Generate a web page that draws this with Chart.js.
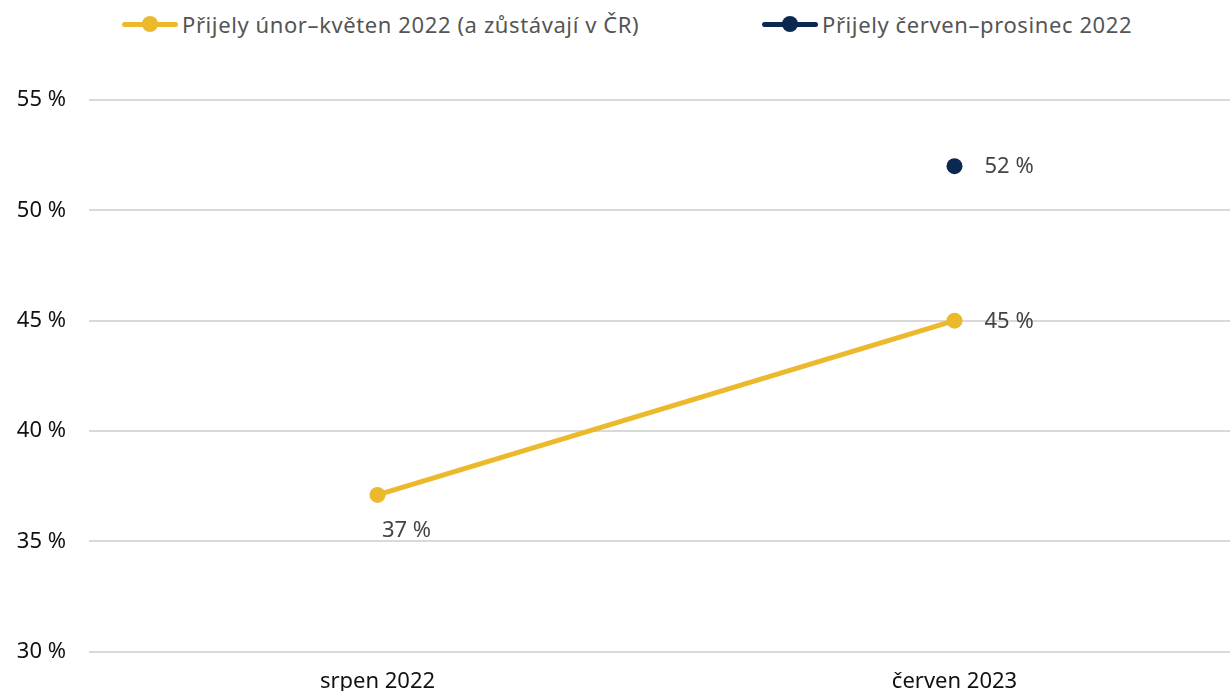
<!DOCTYPE html>
<html lang="cs">
<head>
<meta charset="utf-8">
<script src="https://cdn.jsdelivr.net/npm/chart.js@4/dist/chart.umd.min.js"></script>
<style>
  html, body { margin: 0; padding: 0; background: #fff; overflow: hidden; }
  body { width: 1230px; height: 691px; position: relative; font-family: "Noto Sans", sans-serif; }
  #legend { position: absolute; top: 0; left: 0; width: 1230px; height: 48px; }
  .item { position: absolute; top: 8px; display: flex; align-items: center; color: #555; font-size: 22px; letter-spacing: 0.6px; }
  .sw { position: relative; width: 56px; height: 32px; margin-right: 4px; }
  .sw i { position: absolute; left: 0; right: 0; top: 14px; height: 5px; border-radius: 3px; }
  .sw b { position: absolute; left: 20px; top: 8px; width: 16px; height: 16px; border-radius: 50%; }
  #chart { position: absolute; top: 48px; left: 0; }
</style>
</head>
<body>
<div id="legend"></div>
<canvas id="chart" width="1251" height="656"></canvas>
<script>
const categories = ['srpen 2022', 'červen 2023'];
const seriesNames = ['Přijely únor–květen 2022 (a zůstávají v ČR)', 'Přijely červen–prosinec 2022'];
const arrivedFebMay = [37.1, 45];
const arrivedJunDec = [null, 52];
const yTicks = [30, 35, 40, 45, 50, 55];
const colors = ['#ebb92b', '#0a2850'];

// legend: line with a dot, like the original
const legend = document.getElementById('legend');
const legendLeft = [122, 762];
seriesNames.forEach((name, i) => {
    const el = document.createElement('div');
    el.className = 'item';
    el.style.left = legendLeft[i] + 'px';
    el.innerHTML = `<span class="sw"><i style="background:${colors[i]}"></i><b style="background:${colors[i]}"></b></span><span>${name}</span>`;
    legend.appendChild(el);
});

// value labels next to the points
const valueLabels = {
    id: 'valueLabels',
    afterDatasetsDraw(chart) {
        const ctx = chart.ctx;
        ctx.save();
        ctx.font = '22px "Noto Sans", sans-serif';
        ctx.fillStyle = '#444';
        ctx.textBaseline = 'middle';
        chart.data.datasets.forEach((ds, di) => {
            chart.getDatasetMeta(di).data.forEach((pt, i) => {
                const v = ds.data[i];
                if (v === null) return;
                const text = Math.round(v) + ' %';
                if (di === 0 && i === 0) {
                    ctx.textAlign = 'center';
                    ctx.fillText(text, pt.x + 29, pt.y + 36);
                } else {
                    ctx.textAlign = 'left';
                    ctx.fillText(text, pt.x + 30, pt.y + 1);
                }
            });
        });
        ctx.restore();
    }
};

new Chart(document.getElementById('chart'), {
    type: 'line',
    data: {
        labels: categories,
        datasets: [
            {
                label: seriesNames[0],
                data: arrivedFebMay,
                borderColor: colors[0],
                backgroundColor: colors[0],
                borderWidth: 5,
                pointRadius: 8,
                pointHoverRadius: 8,
                pointBorderWidth: 0
            },
            {
                label: seriesNames[1],
                data: arrivedJunDec,
                borderColor: colors[1],
                backgroundColor: colors[1],
                borderWidth: 5,
                pointRadius: 8,
                pointHoverRadius: 8,
                pointBorderWidth: 0
            }
        ]
    },
    options: {
        responsive: false,
        animation: false,
        layout: { padding: { top: 52, left: 0, right: 0, bottom: 0 } },
        plugins: {
            legend: { display: false },
            tooltip: { enabled: false }
        },
        scales: {
            x: {
                offset: true,
                grid: { display: false },
                border: { display: false },
                ticks: { color: '#111', font: { family: 'Noto Sans', size: 22 }, padding: 9 }
            },
            y: {
                min: 30,
                max: 55,
                afterBuildTicks(axis) { axis.ticks = yTicks.map(v => ({ value: v })); },
                afterFit(axis) { axis.width = 89; },
                grid: { color: '#d9d9d9', lineWidth: 2, drawTicks: false },
                border: { display: false },
                ticks: {
                    color: '#111',
                    font: { family: 'Noto Sans', size: 22 },
                    padding: 23,
                    callback: v => v + ' %'
                }
            }
        }
    },
    plugins: [valueLabels]
});
</script>
</body>
</html>
